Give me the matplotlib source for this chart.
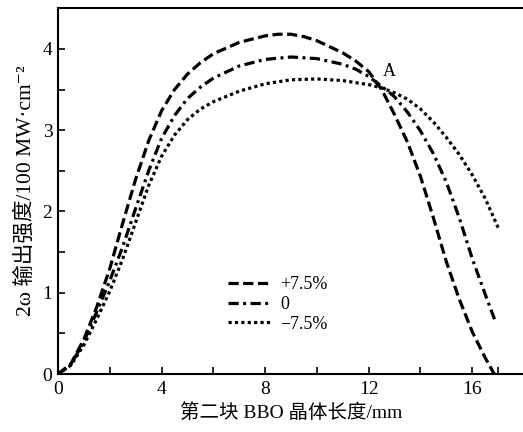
import numpy as np
import matplotlib
matplotlib.use("Agg")
import matplotlib.pyplot as plt

plt.rcParams['font.family'] = ['Liberation Serif', 'Noto Sans CJK SC', 'DejaVu Serif']

#  Crystal length (mm) and 2w output intensity (100 MW/cm^2) for three detunings.
x_pos = [0, 0.5, 1, 1.5, 2, 2.5, 3, 3.5, 4, 4.5, 5, 5.5, 6, 7, 8, 8.5, 9, 9.5,
         10, 11, 11.5, 12, 12.5, 13, 13.5, 14, 14.5, 15, 15.5, 16, 16.5, 16.85]
y_pos = [0, 0.13, 0.43, 0.83, 1.30, 1.86, 2.40, 2.87, 3.24, 3.50, 3.69, 3.83,
         3.94, 4.08, 4.16, 4.18, 4.18, 4.15, 4.10, 3.95, 3.85, 3.72, 3.50, 3.19,
         2.85, 2.43, 1.92, 1.38, 0.92, 0.52, 0.20, 0.0]

x_zero = [0, 0.5, 1, 1.5, 2, 2.5, 3, 3.5, 4, 4.5, 5, 5.5, 6, 7, 8, 9, 10, 11,
          11.5, 12, 12.5, 13, 13.5, 14, 14.5, 15, 15.5, 16, 16.5, 16.9]
y_zero = [0, 0.12, 0.40, 0.77, 1.15, 1.57, 2.04, 2.50, 2.90, 3.18, 3.39, 3.53,
          3.64, 3.79, 3.87, 3.90, 3.88, 3.81, 3.75, 3.66, 3.54, 3.41, 3.22,
          2.99, 2.71, 2.36, 1.92, 1.42, 0.98, 0.64]

x_neg = [0, 0.5, 1, 1.5, 2, 2.5, 3, 3.5, 4, 4.5, 5, 5.5, 6, 7, 8, 9, 10, 11,
         12, 12.5, 13, 13.5, 14, 14.5, 15, 15.5, 16, 16.5, 17]
y_neg = [0, 0.11, 0.36, 0.68, 1.02, 1.42, 1.87, 2.32, 2.68, 2.94, 3.13, 3.26,
         3.35, 3.48, 3.57, 3.62, 3.63, 3.61, 3.56, 3.52, 3.46, 3.38, 3.26,
         3.10, 2.91, 2.70, 2.45, 2.16, 1.80]

labels = ['+7.5%', '0', '\u22127.5%']

fig = plt.figure(figsize=(5.23, 4.32), dpi=100)
ax = fig.add_axes([0.111, 0.134, 0.891, 0.847])

lw = 2.3
l1, = ax.plot(x_pos, y_pos, color='black', lw=lw, dashes=(3.2, 1.4),
              dash_capstyle='butt', label=labels[0])
l2, = ax.plot(x_zero, y_zero, color='black', lw=lw, dashes=(3.2, 1.4, 0.9, 1.4),
              dash_capstyle='butt', label=labels[1])
l3, = ax.plot(x_neg, y_neg, color='black', lw=lw, dashes=(1.0, 1.0),
              dash_capstyle='butt', label=labels[2])

ax.text(12.8, 3.72, 'A', fontsize=13, ha='center', va='center')

ax.set_xlim(0, 18)
ax.set_ylim(0, 4.5)
ax.set_xticks([0, 4, 8, 12, 16])
ax.set_xticks([2, 6, 10, 14, 17], minor=True)
ax.set_yticks([0, 1, 2, 3, 4])
ax.set_yticks([0.5, 1.5, 2.5, 3.5], minor=True)
ax.tick_params(which='both', direction='in', length=5, width=1.2,
               labelsize=14, pad=5)
ax.tick_params(axis='y', which='both', pad=4)

for s in ['left', 'bottom', 'top']:
    ax.spines[s].set_linewidth(1.5)
ax.spines['right'].set_visible(False)

ax.set_xlabel('第二块 BBO 晶体长度/mm', fontsize=14, labelpad=4)
ax.set_ylabel('2\u03c9 输出强度/100 MW\u00b7cm\u207b\u00b2', fontsize=15.5,
              labelpad=5)

ax.legend(handles=[l1, l2, l3], loc='upper left',
          bbox_to_anchor=(0.345, 0.292), frameon=False, fontsize=13,
          handlelength=2.4, handletextpad=0.5, labelspacing=0.15,
          borderpad=0)

fig.savefig('out.png', dpi=100)
